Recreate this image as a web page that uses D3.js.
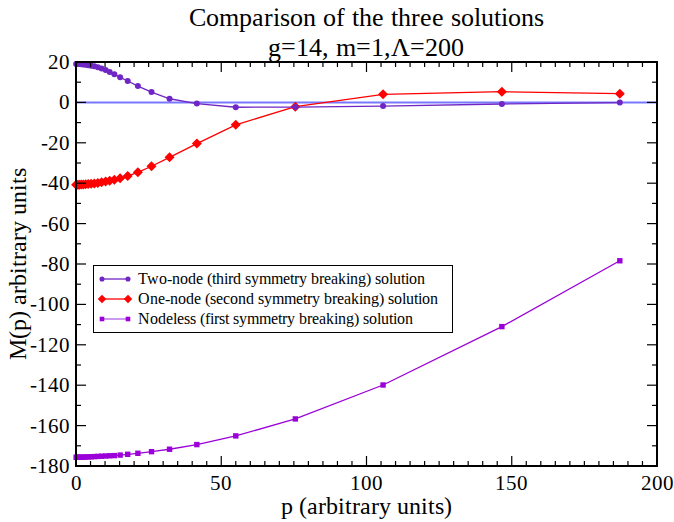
<!DOCTYPE html>
<html>
<head>
<meta charset="utf-8">
<style>
  @font-face {
    font-family: 'ChartSerif';
    src: local('Liberation Serif'), local('LiberationSerif'), local('Liberation Serif Regular'), local('Times New Roman');
  }
  body { margin: 0; }
</style>
</head>
<body>
<svg id="chart" width="674" height="522" style="display:block"></svg>
<script src="https://cdn.jsdelivr.net/npm/d3@7"></script>
<script>
// momentum grid shared by all three solutions
const momenta = [0.05, 0.3, 0.7, 1.2, 1.8, 2.5, 3.3, 4.2, 5.2, 6.3, 7.5, 8.8, 10.2, 11.6,
  13.2, 15.2, 17.8, 21.3, 26.0, 32.2, 41.6, 55.0, 75.5, 105.7, 146.6, 187.2];

const twoNode = [19.0, 19.0, 19.0, 18.95, 18.9, 18.8, 18.65, 18.45, 18.2, 17.85, 17.4, 16.8, 16.0, 15.1,
  13.9, 12.4, 10.6, 8.1, 5.1, 1.8, -0.6, -2.4, -2.3, -1.8, -0.8, -0.1];

const oneNode = [-40.8, -40.8, -40.8, -40.75, -40.7, -40.65, -40.55, -40.45, -40.3, -40.1, -39.85, -39.55, -39.2, -38.8,
  -38.3, -37.6, -36.4, -34.6, -31.6, -27.2, -20.4, -11.1, -2.1, 4.0, 5.3, 4.3];

const nodeless = [-175.7, -175.7, -175.7, -175.68, -175.65, -175.6, -175.55, -175.5, -175.45, -175.35, -175.25, -175.15, -175.05, -174.95,
  -174.85, -174.6, -174.2, -173.7, -172.9, -171.7, -169.4, -165.1, -156.7, -139.9, -111.0, -78.4];

const seriesNames = [
  'Two-node (third symmetry breaking) solution',
  'One-node (second symmetry breaking) solution',
  'Nodeless (first symmetry breaking) solution'
];
const seriesColors = ['#7026c4', '#ff0000', '#9b00d8'];
const seriesSymbols = ['circle', 'diamond', 'square'];

const xTicks = [0, 50, 100, 150, 200];
const yTicks = [20, 0, -20, -40, -60, -80, -100, -120, -140, -160, -180];

const FONT = "ChartSerif, 'Liberation Serif', serif";
const margin = { top: 62, right: 17, bottom: 56, left: 76 };
const width = 674 - margin.left - margin.right;
const height = 522 - margin.top - margin.bottom;

const x = d3.scaleLinear().domain([0, 200]).range([0, width]);
const y = d3.scaleLinear().domain([-180, 20]).range([height, 0]);

const svg = d3.select('#chart');
const g = svg.append('g').attr('transform', `translate(${margin.left},${margin.top})`);

// titles
svg.append('text').attr('x', 366).attr('y', 26).attr('text-anchor', 'middle')
  .style('font-family', FONT).style('font-size', '26px').text('Comparison of the three solutions');
svg.append('text').attr('x', 366).attr('y', 56).attr('text-anchor', 'middle')
  .style('font-family', FONT).style('font-size', '26px').text('g=14, m=1,\u039B=200');

// zero line
g.append('line')
  .attr('x1', x(0)).attr('x2', x(200))
  .attr('y1', y(0)).attr('y2', y(0))
  .attr('stroke', '#7878ff').attr('stroke-width', 2);

// marker shapes: circle, square turned 45 degrees, square
const markerPath = (name, r) => {
  if (name === 'circle') return d3.symbol().type(d3.symbolCircle).size(Math.PI * r * r)();
  if (name === 'diamond') return `M0,${-r}L${r},0L0,${r}L${-r},0Z`;
  return `M${-r},${-r}H${r}V${r}H${-r}Z`;
};
const markerRadius = { circle: 3, diamond: 5, square: 2.7 };

const allSeries = [twoNode, oneNode, nodeless];
const line = d3.line().x((d) => x(d[0])).y((d) => y(d[1]));

// draw nodeless first so two-node ends up on top
[2, 1, 0].forEach((i) => {
  const pts = momenta.map((p, j) => [p, allSeries[i][j]]);
  g.append('path').datum(pts)
    .attr('d', line)
    .attr('fill', 'none')
    .attr('stroke', seriesColors[i])
    .attr('stroke-width', 1.3);
  g.append('g').selectAll('path').data(pts).enter().append('path')
    .attr('d', markerPath(seriesSymbols[i], markerRadius[seriesSymbols[i]]))
    .attr('transform', (d) => `translate(${x(d[0])},${y(d[1])})`)
    .attr('fill', seriesColors[i]);
});

// frame and ticks (inward, on all four sides)
const xMinor = d3.range(0, 201, 5);
const yMinor = d3.range(-180, 21, 10);
const ticks = g.append('g').attr('stroke', '#000').attr('stroke-width', 1.2);
xMinor.forEach((v) => {
  const len = v % 50 === 0 ? 10 : 5;
  ticks.append('line').attr('x1', x(v)).attr('x2', x(v)).attr('y1', height).attr('y2', height - len);
  ticks.append('line').attr('x1', x(v)).attr('x2', x(v)).attr('y1', 0).attr('y2', len);
});
yMinor.forEach((v) => {
  const len = v % 20 === 0 ? 10 : 5;
  ticks.append('line').attr('x1', 0).attr('x2', len).attr('y1', y(v)).attr('y2', y(v));
  ticks.append('line').attr('x1', width).attr('x2', width - len).attr('y1', y(v)).attr('y2', y(v));
});
g.append('rect').attr('width', width).attr('height', height)
  .attr('fill', 'none').attr('stroke', '#000').attr('stroke-width', 2);

// tick labels
g.append('g').selectAll('text').data(xTicks).enter().append('text')
  .attr('x', (d) => x(d)).attr('y', height + 24)
  .attr('text-anchor', 'middle').style('font-family', FONT).style('font-size', '21px').text((d) => d);
g.append('g').selectAll('text').data(yTicks).enter().append('text')
  .attr('x', -6).attr('y', (d) => y(d) + 7)
  .attr('text-anchor', 'end').style('font-family', FONT).style('font-size', '21px').text((d) => d);

// axis titles
svg.append('text').attr('x', margin.left + width / 2).attr('y', 514)
  .attr('text-anchor', 'middle').style('font-family', FONT).style('font-size', '24px').text('p (arbitrary units)');
svg.append('text')
  .attr('transform', `translate(26,${margin.top + height / 2}) rotate(-90)`)
  .attr('text-anchor', 'middle').style('font-family', FONT).style('font-size', '24px').text('M(p) arbitrary units');

// legend
const legend = svg.append('g');
legend.append('rect').attr('x', 93.5).attr('y', 265.5).attr('width', 359).attr('height', 67)
  .attr('fill', '#fff').attr('stroke', '#000').attr('stroke-width', 1);
seriesNames.forEach((name, i) => {
  const ly = 279 + i * 20;
  const sym = seriesSymbols[i];
  legend.append('line').attr('x1', 102).attr('x2', 128).attr('y1', ly).attr('y2', ly)
    .attr('stroke', i === 2 ? '#b060e8' : seriesColors[i]).attr('stroke-width', 1.3);
  [102, 128].forEach((lx) => {
    legend.append('path').attr('d', markerPath(sym, markerRadius[sym] * 0.85))
      .attr('transform', `translate(${lx},${ly})`).attr('fill', seriesColors[i]);
  });
  legend.append('text').attr('x', 138).attr('y', ly + 5)
    .style('font-family', FONT).style('font-size', '15.5px').text(name);
});
</script>
</body>
</html>
